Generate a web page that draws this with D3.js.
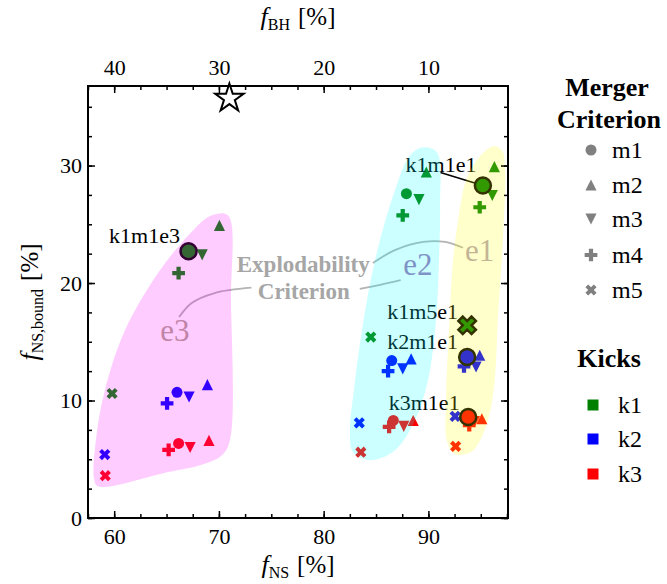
<!DOCTYPE html>
<html>
<head>
<meta charset="utf-8">
<script src="https://cdn.jsdelivr.net/npm/d3@7"></script>
<style>
body { margin: 0; background: #fff; }
svg text { font-family: "Liberation Serif", "DejaVu Serif", serif; }
</style>
</head>
<body>
<div id="chart"></div>
<script>
// categories
const kicks = ["k1", "k2", "k3"];
const criteria = ["m1", "m2", "m3", "m4", "m5"];
const explod = ["e1", "e2", "e3"];

// f_NS [%] and f_NS,bound [%]; rows = kicks k1..k3, columns = m1..m5
const nsE1 = [[95.2, 96.3, 96.1, 94.9, 93.7], [93.7, 94.9, 94.55, 93.4, 92.55], [93.8, 95.1, 94.4, 93.9, 92.6]];
const boundE1 = [[28.3, 29.9, 27.45, 26.45, 16.4], [13.7, 13.85, 12.85, 12.9, 8.65], [8.6, 8.45, 8.2, 7.9, 6.1]];
const nsE2 = [[87.9, 89.8, 89.1, 87.55, 84.5], [86.5, 88.35, 87.55, 86.15, 83.4], [86.65, 88.55, 87.65, 86.25, 83.55]];
const boundE2 = [[27.6, 29.45, 27.1, 25.75, 15.4], [13.4, 13.55, 12.7, 12.5, 8.1], [8.3, 8.3, 7.8, 7.75, 5.6]];
const nsE3 = [[67.1, 70.05, 68.4, 66.15, 59.8], [66.0, 68.9, 67.15, 65.05, 59.1], [66.15, 69.05, 67.25, 65.2, 59.15]];
const boundE3 = [[22.7, 24.9, 22.4, 20.85, 10.6], [10.7, 11.35, 10.3, 9.75, 5.4], [6.35, 6.6, 6.0, 5.8, 3.6]];

// reference star
const starNS = [71.0];
const starBound = [35.8];

// highlighted runs
const highlighted = ["k1m1e1", "k1m5e1", "k2m1e1", "k3m1e1", "k1m1e3"];

// tick labels
const xTicks = [60, 70, 80, 90];
const bhTicks = [40, 30, 20, 10];
const yTicks = [0, 10, 20, 30];

// explodability regions (outline in data units)
const e1Outline = [[96.17,31.63],[97.03,31.29],[97.32,29.59],[97.13,23.96],[96.65,17.17],[96.27,11.21],[95.51,7.81],[94.17,5.68],[92.54,5.42],[91.78,6.53],[91.68,10.02],[91.97,15.97],[92.35,21.93],[92.83,25.33],[93.6,28.74],[94.74,30.6]];
const e2Outline = [[89.48,31.55],[90.82,31.12],[91.11,26.6],[91.01,21.93],[90.73,16.83],[89.96,11.72],[88.72,8.31],[86.81,5.76],[84.42,4.91],[82.8,5.59],[82.51,7.46],[82.89,10.87],[83.66,15.97],[84.9,21.93],[86.81,27.89],[88.24,30.87]];
const e3Outline = [[70.86,25.76],[71.15,18.53],[71.05,6.62],[70.29,5.34],[68.2,4.49],[65.16,3.91],[58.44,2.7],[58.07,3.38],[58.25,6.62],[59.11,10.87],[61.03,15.97],[64.37,21.08],[67.71,24.65],[69.33,25.76]];

const nsVals = [nsE1, nsE2, nsE3];
const boundVals = [boundE1, boundE2, boundE3];
const outlines = [e1Outline, e2Outline, e3Outline];
const regionColor = {e1: "#ffff00", e2: "#00ffff", e3: "#ff00ff"};
const labelColor = {e1: "#c3b596", e2: "#7f93c6", e3: "#c084a6"};
const kickColor = {k1: "#008000", k2: "#0000ff", k3: "#ff0000"};

// Set dimensions and margins for the chart
const margin = {top: 86, right: 159, bottom: 66, left: 88};
const width = 667 - margin.left - margin.right;
const height = 584 - margin.top - margin.bottom;

const x = d3.scaleLinear().domain([57.5, 97.6]).range([0, width]);
const xTop = d3.scaleLinear().domain([100 - 57.5, 100 - 97.6]).range([0, width]);
const y = d3.scaleLinear().domain([0, 36.77]).range([height, 0]);

const svg = d3.select("#chart").append("svg")
    .attr("width", 667)
    .attr("height", 584);

const g = svg.append("g")
    .attr("transform", `translate(${margin.left},${margin.top})`);

// custom triangle marker (width == height like matplotlib)
const triUp = {
    draw(ctx, size) {
        const r = Math.sqrt(size) / 2;
        ctx.moveTo(0, -r); ctx.lineTo(r, r); ctx.lineTo(-r, r); ctx.closePath();
    }
};
const triDown = {
    draw(ctx, size) {
        const r = Math.sqrt(size) / 2;
        ctx.moveTo(0, r); ctx.lineTo(r, -r); ctx.lineTo(-r, -r); ctx.closePath();
    }
};

function marker(m, big) {
    if (m === "m1") return {d: d3.symbol(d3.symbolCircle, big ? 201 : 95)(), rot: 0};
    if (m === "m2") return {d: d3.symbol(triUp, 125)(), rot: 0};
    if (m === "m3") return {d: d3.symbol(triDown, 125)(), rot: 0};
    if (m === "m4") return {d: d3.symbol(d3.symbolCross, 90)(), rot: 0};
    return {d: d3.symbol(d3.symbolCross, big ? 192 : 78)(), rot: 45};
}

// flatten points
const points = [];
explod.forEach((e, ei) => kicks.forEach((k, ki) => criteria.forEach((m, mi) => {
    points.push({e, k, m, id: k + m + e, ns: nsVals[ei][ki][mi], bound: boundVals[ei][ki][mi]});
})));
points.forEach(p => p.big = highlighted.includes(p.id));
points.sort((a, b) => a.big - b.big);

// leader line for k1m1e1
const leader = [[91.15, 29.4], [95.2, 28.3]];
g.append("path")
    .attr("d", d3.line().x(d => x(d[0])).y(d => y(d[1]))(leader))
    .attr("stroke", "#000").attr("stroke-width", 1.6).attr("fill", "none");

// Plot data points
g.selectAll("path.pt")
    .data(points)
    .join("path")
    .attr("class", "pt")
    .attr("d", d => marker(d.m, d.big).d)
    .attr("transform", d => `translate(${x(d.ns)},${y(d.bound)}) rotate(${marker(d.m, d.big).rot})`)
    .attr("fill", d => kickColor[d.k])
    .attr("stroke", d => d.big ? "#000" : "none")
    .attr("stroke-width", 2.5);

// run labels
const runLabels = ["k1m1e3", "k1m1e1", "k1m5e1", "k2m1e1", "k3m1e1"];
const runLabelNS = [62.9, 91.2, 89.45, 89.45, 89.6];
const runLabelBound = [23.4, 29.45, 16.9, 14.4, 9.15];
g.selectAll("text.run")
    .data(runLabels)
    .join("text")
    .attr("class", "run")
    .attr("x", (d, i) => x(runLabelNS[i]))
    .attr("y", (d, i) => y(runLabelBound[i]))
    .attr("text-anchor", "middle")
    .attr("font-size", 22)
    .attr("fill", "#000")
    .text(d => d);

// Explodability criterion annotation
const lineGen = d3.line().x(d => x(d[0])).y(d => y(d[1])).curve(d3.curveCatmullRom);
const connectors = [
    [[84.7, 21.7], [86.8, 22.8], [89.5, 23.5], [91.6, 23.5], [93.3, 23.0]],
    [[83.45, 19.5], [85.4, 19.85], [87.35, 20.25]],
    [[73.1, 19.6], [69.6, 19.15], [67.4, 18.3], [66.2, 17.1]]
];
g.selectAll("path.conn")
    .data(connectors)
    .join("path")
    .attr("class", "conn")
    .attr("d", lineGen)
    .attr("fill", "none")
    .attr("stroke", "#b3b3b3")
    .attr("stroke-width", 1.8);

const critWords = ["Explodability", "Criterion"];
const critNS = [78.05, 78.1];
const critBound = [20.95, 18.6];
g.selectAll("text.crit")
    .data(critWords)
    .join("text")
    .attr("class", "crit")
    .attr("x", (d, i) => x(critNS[i]))
    .attr("y", (d, i) => y(critBound[i]))
    .attr("text-anchor", "middle")
    .attr("font-size", 23)
    .attr("font-weight", "bold")
    .attr("fill", "#a6a6a6")
    .text(d => d);

// translucent regions on top
const area = d3.line().x(d => x(d[0])).y(d => y(d[1])).curve(d3.curveCatmullRomClosed.alpha(0.5));
g.selectAll("path.region")
    .data(explod)
    .join("path")
    .attr("class", "region")
    .attr("d", (d, i) => area(outlines[i]))
    .attr("fill", d => regionColor[d])
    .attr("fill-opacity", 0.2);

const eLabelNS = [94.9, 89.0, 65.8];
const eLabelBound = [21.9, 20.65, 15.1];
g.selectAll("text.elab")
    .data(explod)
    .join("text")
    .attr("class", "elab")
    .attr("x", (d, i) => x(eLabelNS[i]))
    .attr("y", (d, i) => y(eLabelBound[i]))
    .attr("text-anchor", "middle")
    .attr("font-size", 31)
    .attr("fill", d => labelColor[d])
    .text(d => d);

// star
g.selectAll("path.star")
    .data(starNS)
    .join("path")
    .attr("class", "star")
    .attr("d", d3.symbol(d3.symbolStar, 250)())
    .attr("transform", (d, i) => `translate(${x(d)},${y(starBound[i]) + 1})`)
    .attr("fill", "#fff")
    .attr("stroke", "#000")
    .attr("stroke-width", 2);

// axes
function styleAxis(sel) {
    sel.select(".domain").remove();
    sel.selectAll("line").attr("stroke", "#000").attr("stroke-width", 1.5);
    sel.attr("font-size", 22).attr("font-family", "Liberation Serif, serif");
    sel.selectAll("text").attr("fill", "#000");
}
const xMinor = d3.range(57.5, 97.6, 2.5);
const bhMinor = d3.range(5, 42.6, 2.5);
const yMinor = d3.range(0, 36.7, 2.5);

g.append("g").attr("transform", `translate(0,${height})`)
    .call(d3.axisBottom(x).tickValues(xMinor).tickSize(-4).tickFormat("")).call(styleAxis);
g.append("g").attr("transform", `translate(0,${height})`)
    .call(d3.axisBottom(x).tickValues(xTicks).tickSize(-7).tickPadding(10).tickFormat(d3.format("d"))).call(styleAxis);

g.append("g")
    .call(d3.axisTop(xTop).tickValues(bhMinor).tickSize(-4).tickFormat("")).call(styleAxis);
g.append("g")
    .call(d3.axisTop(xTop).tickValues(bhTicks).tickSize(-7).tickPadding(11).tickFormat(d3.format("d"))).call(styleAxis);

g.append("g")
    .call(d3.axisLeft(y).tickValues(yMinor).tickSize(-4).tickFormat("")).call(styleAxis);
g.append("g")
    .call(d3.axisLeft(y).tickValues(yTicks).tickSize(-7).tickPadding(6).tickFormat(d3.format("d"))).call(styleAxis);

g.append("g").attr("transform", `translate(${width},0)`)
    .call(d3.axisRight(y).tickValues(yMinor).tickSize(-4).tickFormat("")).call(styleAxis);
g.append("g").attr("transform", `translate(${width},0)`)
    .call(d3.axisRight(y).tickValues(yTicks).tickSize(-7).tickFormat("")).call(styleAxis);

// frame
g.append("rect")
    .attr("width", width).attr("height", height)
    .attr("fill", "none").attr("stroke", "#000").attr("stroke-width", 2);

// axis titles
function axisTitle(sel, sub) {
    sel.append("tspan").attr("font-style", "italic").attr("font-size", 26).text("f");
    sel.append("tspan").attr("font-size", 16).attr("dy", 5).text(sub);
    sel.append("tspan").attr("font-size", 25).attr("dy", -5).attr("dx", 8).text("[%]");
}
svg.append("text").attr("x", margin.left + width / 2).attr("y", 573)
    .attr("text-anchor", "middle").call(axisTitle, "NS");
svg.append("text").attr("x", margin.left + width / 2).attr("y", 25)
    .attr("text-anchor", "middle").call(axisTitle, "BH");
svg.append("text").attr("transform", `translate(38,${margin.top + height / 2}) rotate(-90)`)
    .attr("text-anchor", "middle").call(axisTitle, "NS,bound");

// legend: merger criterion
const legend = svg.append("g");
legend.append("text").attr("x", 607).attr("y", 96).attr("text-anchor", "middle")
    .attr("font-size", 26).attr("font-weight", "bold").text("Merger");
legend.append("text").attr("x", 609).attr("y", 128).attr("text-anchor", "middle")
    .attr("font-size", 26).attr("font-weight", "bold").text("Criterion");
const legY = [150, 185, 219, 255, 290];
criteria.forEach((m, i) => {
    const mk = marker(m, false);
    legend.append("path").attr("d", mk.d)
        .attr("transform", `translate(591,${legY[i]}) rotate(${mk.rot})`)
        .attr("fill", "#808080");
    legend.append("text").attr("x", 612).attr("y", legY[i] + 8)
        .attr("font-size", 24).text(m);
});

// legend: kicks
legend.append("text").attr("x", 609).attr("y", 367).attr("text-anchor", "middle")
    .attr("font-size", 26).attr("font-weight", "bold").text("Kicks");
const kickY = [405, 439, 474];
kicks.forEach((k, i) => {
    legend.append("rect").attr("x", 587.5).attr("y", kickY[i] - 5.5)
        .attr("width", 11).attr("height", 11).attr("fill", kickColor[k]);
    legend.append("text").attr("x", 618).attr("y", kickY[i] + 8)
        .attr("font-size", 24).text(k);
});
</script>
</body>
</html>
